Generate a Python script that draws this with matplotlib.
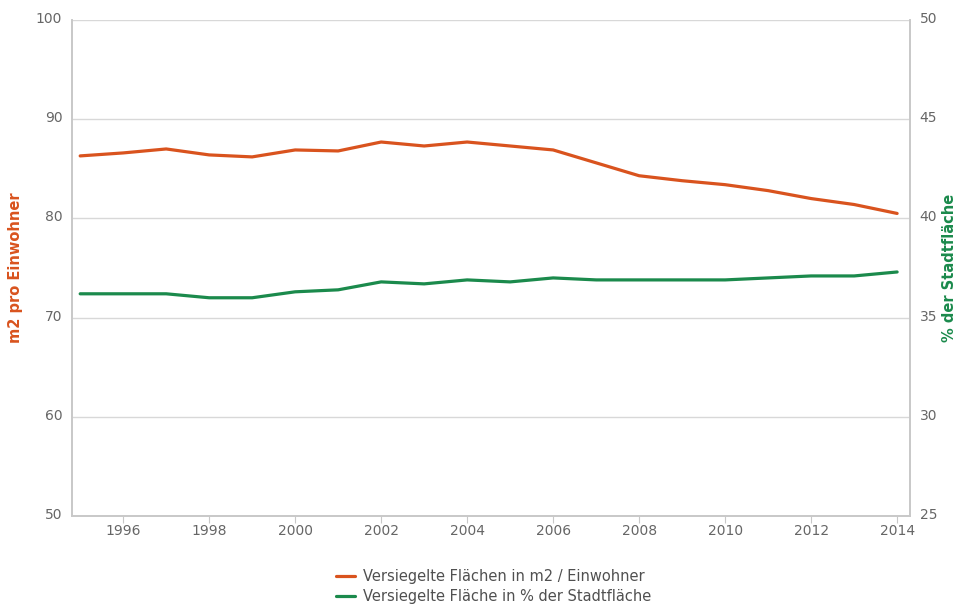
import matplotlib.pyplot as plt
import matplotlib.transforms as mtransforms
import numpy as np

years = list(range(1995, 2015))
m2_pro_einwohner = [86.3, 86.6, 87.0, 86.4, 86.2, 86.9, 86.8, 87.7, 87.3, 87.7,
                    87.3, 86.9, 85.6, 84.3, 83.8, 83.4, 82.8, 82.0, 81.4, 80.5]
anteil_stadtflaeche = [36.2, 36.2, 36.2, 36.0, 36.0, 36.3, 36.4, 36.8, 36.7, 36.9,
                       36.8, 37.0, 36.9, 36.9, 36.9, 36.9, 37.0, 37.1, 37.1, 37.3]

label_orange = "Versiegelte Flächen in m2 / Einwohner"
label_green = "Versiegelte Fläche in % der Stadtfläche"

orange = "#d9531e"
green = "#1b8a4c"
grey_text = "#666666"
grid_col = "#d8d8d8"

plt.rcParams['font.family'] = ['DejaVu Sans']

fig = plt.figure(figsize=(9.55, 6.06), dpi=100)
ax = fig.add_axes([0.0754, 0.1485, 0.8775, 0.8185])
ax2 = ax.twinx()

l1, = ax.plot(years, m2_pro_einwohner, color=orange, lw=2.3, label=label_orange,
              solid_capstyle='round')
l2, = ax2.plot(years, anteil_stadtflaeche, color=green, lw=2.3, label=label_green,
               solid_capstyle='round')

ax.set_xlim(1994.81, 2014.3)
ax.set_ylim(50, 100)
ax2.set_ylim(25, 50)
ax.set_yticks(np.arange(50, 101, 10))
ax2.set_yticks(np.arange(25, 51, 5))
ax.set_xticks(range(1996, 2015, 2))

ax.grid(True, axis='y', color=grid_col, lw=1)
ax.set_axisbelow(True)

for a in (ax, ax2):
    a.spines['top'].set_visible(False)
    for s in ('left', 'right', 'bottom'):
        a.spines[s].set_color("#c8c8c8")
        a.spines[s].set_linewidth(1.2)

ax.tick_params(axis='y', length=0, pad=7, labelsize=10, labelcolor=grey_text)
ax2.tick_params(axis='y', length=0, pad=7, labelsize=10, labelcolor=grey_text)
ax.tick_params(axis='x', length=5, color="#c8c8c8", pad=1, labelsize=10,
               labelcolor=grey_text)

# labels sit a little above their grid line
offset = mtransforms.ScaledTranslation(0, 0.025, fig.dpi_scale_trans)
for t in ax.get_yticklabels() + ax2.get_yticklabels():
    t.set_transform(t.get_transform() + offset)

ax.set_ylabel("m2 pro Einwohner", color=orange, fontweight='bold', fontsize=10.5,
              va='center')
ax2.set_ylabel("% der Stadtfläche", color=green, fontweight='bold', fontsize=10.5,
               rotation=90, va='center')
ax.yaxis.set_label_coords(-0.067, 0.5)
ax2.yaxis.set_label_coords(1.047, 0.5)

fig.legend(handles=[l1, l2], loc='lower center', bbox_to_anchor=(0.517, -0.018),
           ncol=1, frameon=False, fontsize=10.5, labelcolor="#505050",
           handlelength=1.3, handletextpad=0.6, labelspacing=0.3)

fig.savefig("out.png", dpi=100)
